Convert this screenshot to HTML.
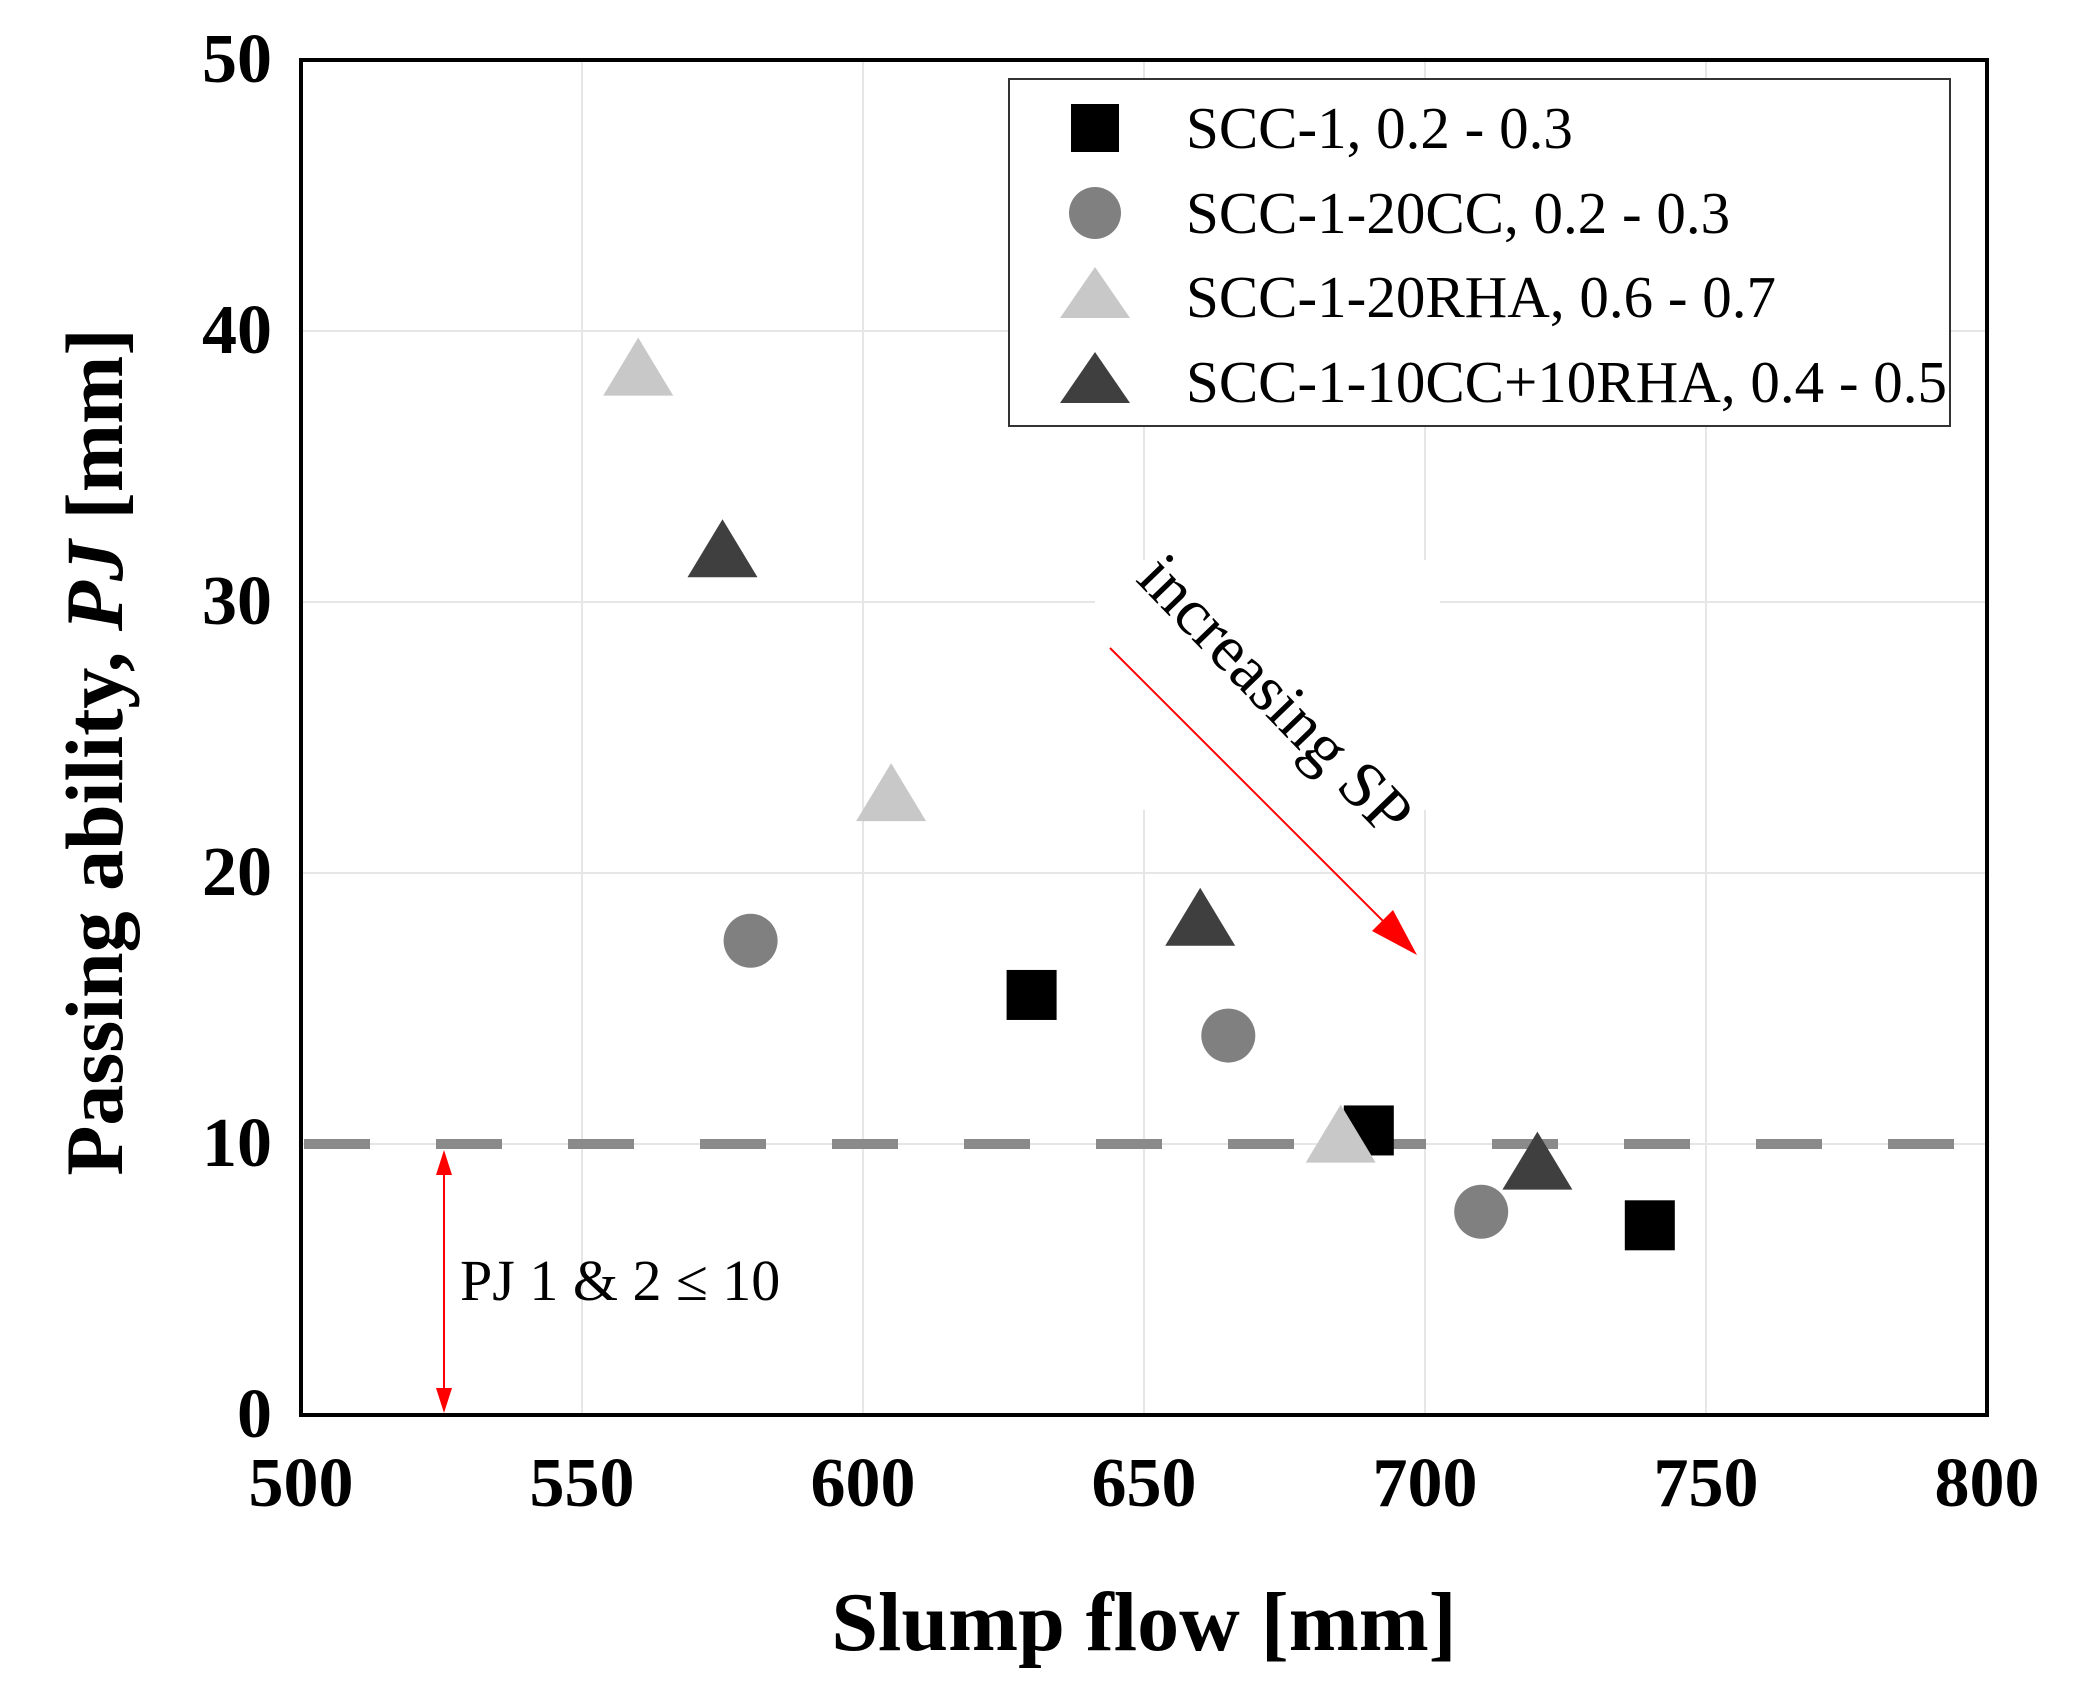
<!DOCTYPE html>
<html><head><meta charset="utf-8"><style>
body{margin:0;background:#fff}
svg{display:block}
text{font-family:"Liberation Serif",serif}
</style></head><body>
<svg id="chart" width="2073" height="1689" viewBox="0 0 2073 1689" xmlns="http://www.w3.org/2000/svg">
<g id="grid"></g>
<line id="thr" stroke="#8a8a8a" stroke-width="10" stroke-dasharray="66,66"/>
<g id="marks"></g>
<rect x="301" y="60" width="1686" height="1355" fill="none" stroke="#000" stroke-width="4"/>
<g id="ticks"></g>
<text x="1144" y="1650" font-size="84" font-weight="bold" text-anchor="middle">Slump flow [mm]</text>
<text transform="translate(122,752) rotate(-90)" font-size="82" font-weight="bold" text-anchor="middle">Passing ability, <tspan font-style="italic">PJ</tspan> [mm]</text>
<g>
<rect x="1009" y="79" width="941" height="347" fill="#fff" stroke="#333" stroke-width="2"/>
<rect x="1071" y="104" width="48" height="48" fill="#000"/>
<text x="1186" y="148" font-size="59">SCC-1, 0.2 - 0.3</text>
<circle cx="1095" cy="213" r="26" fill="#808080"/>
<text x="1186" y="233" font-size="59">SCC-1-20CC, 0.2 - 0.3</text>
<polygon points="1095,267 1130,318 1060,318" fill="#c8c8c8"/>
<text x="1186" y="317" font-size="59">SCC-1-20RHA, 0.6 - 0.7</text>
<polygon points="1095,352 1130,403 1060,403" fill="#3f3f3f"/>
<text x="1186" y="402" font-size="59">SCC-1-10CC+10RHA, 0.4 - 0.5</text>
</g>
<g>
<rect x="1095" y="560" width="345" height="250" fill="#fff"/>
<text transform="translate(1260,710) rotate(46)" font-size="66" text-anchor="middle">increasing SP</text>
<line x1="1110" y1="648" x2="1400" y2="938" stroke="#ff0000" stroke-width="2"/>
<polygon points="1417,955 1372,931 1393,910" fill="#ff0000"/>
</g>
<g>
<line x1="444" y1="1170" x2="444" y2="1395" stroke="#ff0000" stroke-width="2"/>
<polygon points="444,1150 436,1175 452,1175" fill="#ff0000"/>
<polygon points="444,1413 436,1388 452,1388" fill="#ff0000"/>
<text x="460" y="1300" font-size="58">PJ 1 &amp; 2 ≤ 10</text>
</g>
</svg>
<script>
const xTicks=[500,550,600,650,700,750,800];
const yTicks=[0,10,20,30,40,50];
const threshold=10;
const scc1X=[630,690,740], scc1Y=[15.5,10.5,7];
const cc20X=[580,665,710], cc20Y=[17.5,14,7.5];
const rha20X=[560,605,685], rha20Y=[38.5,22.8,10.2];
const mixX=[575,660,720], mixY=[31.8,18.2,9.2];
const NS="http://www.w3.org/2000/svg";
const L=301,R=1987,T=60,B=1415;
function xs(v){return L+(v-500)/300*(R-L);}
function ys(v){return B-(v/50)*(B-T);}
function mk(tag,attrs,parent){const e=document.createElementNS(NS,tag);for(const k in attrs)e.setAttribute(k,attrs[k]);parent.appendChild(e);return e;}
const grid=document.getElementById('grid'),ticks=document.getElementById('ticks'),marks=document.getElementById('marks');
xTicks.forEach(t=>{
 const g=mk('line',{x1:xs(t),x2:xs(t),y1:T,y2:B,stroke:'#e6e6e6','stroke-width':2},grid);
 
 
 const tx=mk('text',{x:xs(t),y:1506,'font-size':70,'font-weight':'bold','text-anchor':'middle'},ticks);
 tx.textContent=t;
 
 
});
yTicks.forEach(t=>{
 const g=mk('line',{x1:L,x2:R,y1:ys(t),y2:ys(t),stroke:'#e6e6e6','stroke-width':2},grid);
 
 
 const tx=mk('text',{x:272,y:ys(t)+22,'font-size':70,'font-weight':'bold','text-anchor':'end'},ticks);
 tx.textContent=t;
 
 
});
const thr=document.getElementById('thr');
thr.setAttribute('x1',L+3);thr.setAttribute('x2',R-3);thr.setAttribute('y1',ys(threshold));thr.setAttribute('y2',ys(threshold));
function tri(x,y,fill,name){
 const cx=xs(x),cy=ys(y);
 const p=mk('polygon',{points:`${cx},${cy-34} ${cx+35},${cy+24} ${cx-35},${cy+24}`,fill:fill},marks);
 
 
}
rha20X.forEach((x,i)=>tri(x,rha20Y[i],'#c8c8c8','point-scc1-20rha'));
mixX.forEach((x,i)=>tri(x,mixY[i],'#3f3f3f','point-scc1-10cc10rha'));
cc20X.forEach((x,i)=>{
 const c=mk('circle',{cx:xs(x),cy:ys(cc20Y[i]),r:27,fill:'#808080'},marks);
 
 
});
scc1X.forEach((x,i)=>{
 const r=mk('rect',{x:xs(x)-25,y:ys(scc1Y[i])-25,width:50,height:50,fill:'#000'},marks);
 
 
});
const last=marks.querySelectorAll('polygon')[2];marks.appendChild(last);
</script>
</body></html>
